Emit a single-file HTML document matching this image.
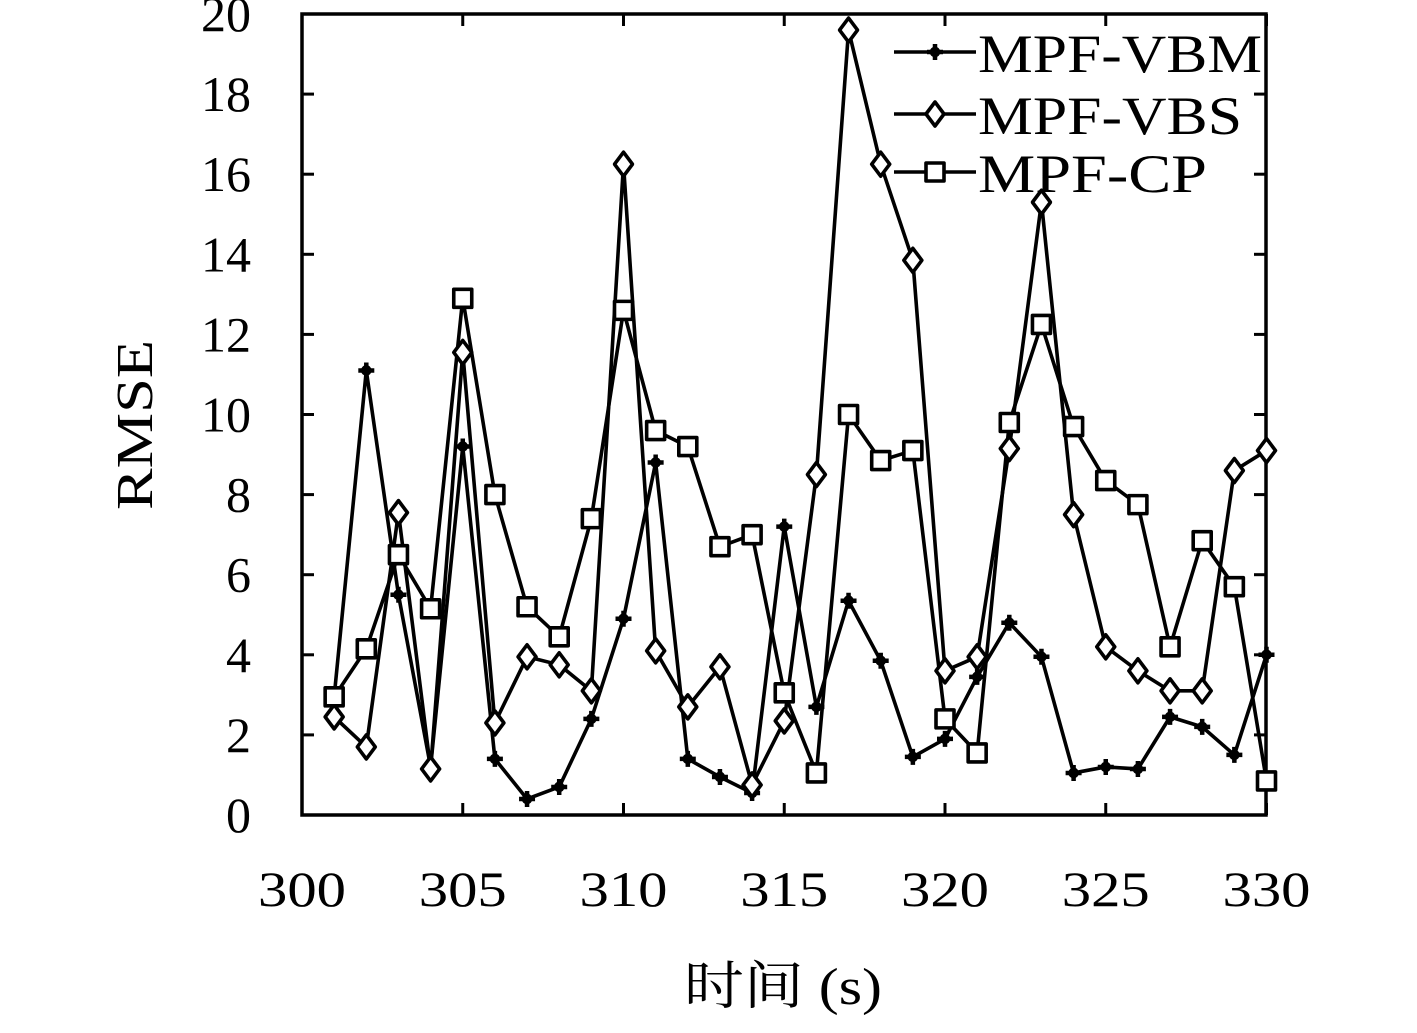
<!DOCTYPE html><html><head><meta charset="utf-8"><style>body{margin:0;background:#fff}</style></head><body>
<svg width="1417" height="1028" xmlns="http://www.w3.org/2000/svg" font-family="Liberation Serif, Noto Serif CJK SC, serif">
<g stroke="#000" stroke-width="3.5" fill="none">
<rect x="302" y="14" width="964" height="801"/>
</g>
<g id="ticks" stroke="#000" stroke-width="3"></g>
<g id="series" stroke="#000" stroke-width="3.6" fill="none" stroke-linejoin="round"></g>
<g font-size="50" text-anchor="end" id="yl"></g>
<g font-size="50" text-anchor="middle" id="xl"></g>
<text x="0" y="0" font-size="52" text-anchor="middle" textLength="170" lengthAdjust="spacingAndGlyphs" transform="translate(152,425) rotate(-90)">RMSE</text>
<text x="684" y="1004" font-size="52" textLength="198" lengthAdjust="spacingAndGlyphs">时间 (s)</text>
<g font-size="54"><text x="978" y="72" textLength="284" lengthAdjust="spacingAndGlyphs">MPF-VBM</text><text x="978" y="134" textLength="264" lengthAdjust="spacingAndGlyphs">MPF-VBS</text><text x="978" y="192" textLength="229" lengthAdjust="spacingAndGlyphs">MPF-CP</text></g>
</svg>
<script>
const NS="http://www.w3.org/2000/svg";
function el(p,t,a,txt){const e=document.createElementNS(NS,t);for(const k in a)e.setAttribute(k,a[k]);if(txt!=null)e.textContent=txt;document.getElementById(p).appendChild(e);return e;}
const X=v=>302+(v-300)*32.15, Y=v=>815-v*40.05;
for(let v=0;v<=20;v+=2){const y=Y(v);el("ticks","line",{x1:302,y1:y,x2:314,y2:y});el("ticks","line",{x1:1254,y1:y,x2:1266,y2:y});el("yl","text",{x:251,y:y+17},v);}
for(let v=300;v<=330;v+=5){const x=X(v);el("ticks","line",{x1:x,y1:815,x2:x,y2:803});el("ticks","line",{x1:x,y1:14,x2:x,y2:26});el("xl","text",{x:x,y:906,textLength:88,lengthAdjust:"spacingAndGlyphs"},v);}
const vbm=[2.95,11.1,5.5,1.2,9.2,1.4,0.4,0.7,2.4,4.9,8.8,1.4,0.95,0.55,7.2,2.7,5.35,3.85,1.45,1.9,3.45,4.8,3.95,1.05,1.2,1.15,2.45,2.2,1.5,4.0];
const vbs=[2.45,1.7,7.55,1.15,11.55,2.3,3.95,3.75,3.1,16.25,4.1,2.7,3.7,0.75,2.35,8.5,19.6,16.25,13.85,3.6,3.95,9.15,15.3,7.5,4.2,3.6,3.1,3.1,8.6,9.1];
const cp=[2.95,4.15,6.5,5.15,12.9,8.0,5.2,4.45,7.4,12.6,9.6,9.2,6.7,7.0,3.05,1.05,10.0,8.85,9.1,2.4,1.55,9.8,12.25,9.7,8.35,7.75,4.2,6.85,5.7,0.85];
function marker(k,x,y){if(k==0){el("series","path",{d:`M${x-8},${y}H${x+8}M${x},${y-8}V${y+8}`,"stroke-width":4.5});el("series","circle",{cx:x,cy:y,r:3.5,fill:"#000"});}
else if(k==1)el("series","path",{d:`M${x},${y-12}L${x+9},${y}L${x},${y+12}L${x-9},${y}Z`,fill:"#fff"});
else el("series","rect",{x:x-9,y:y-9,width:18,height:18,fill:"#fff"});}
[vbm,vbs,cp].forEach((d,k)=>{el("series","polyline",{points:d.map((v,i)=>X(301+i)+","+Y(v)).join(" ")});});
[vbm,vbs,cp].forEach((d,k)=>{d.forEach((v,i)=>marker(k,X(301+i),Y(v)));});
[52,114,172].forEach((y,k)=>{el("series","line",{x1:894,y1:y,x2:976,y2:y});marker(k,935,y);});
</script>
</body></html>
